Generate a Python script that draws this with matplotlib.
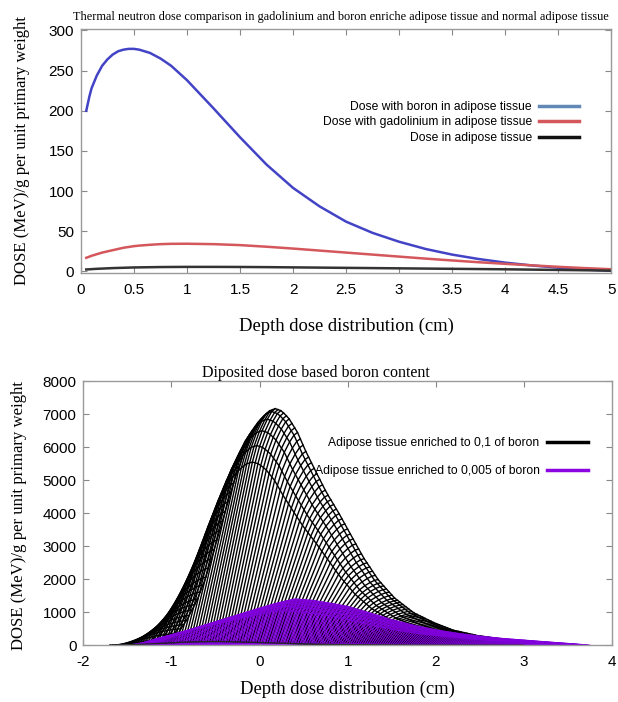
import numpy as np
import matplotlib
matplotlib.use("Agg")
import matplotlib.pyplot as plt
from matplotlib.lines import Line2D

## Data ####################################################

# top chart: thermal neutron dose vs depth
depth = [0.05, 0.08, 0.1, 0.15, 0.2, 0.25, 0.3, 0.35, 0.4, 0.45, 0.5,
         0.55, 0.65, 0.75, 0.85, 1.0, 1.25, 1.5, 1.75, 2.0, 2.25, 2.5,
         2.75, 3.0, 3.25, 3.5, 3.75, 4.0, 4.25, 4.5, 4.75, 5.0]
dose_boron = [200, 218, 228, 244, 256, 264, 270, 274, 276, 277, 277,
              276, 272, 265, 256, 238, 203, 167, 133, 104, 81, 62,
              48, 37, 28, 21, 15.5, 11, 7.5, 4.7, 2.5, 1.0]
dose_gado = [17, 18.5, 19.5, 21.5, 23.5, 25, 26.5, 28, 29.5, 30.5, 31.5,
             32.2, 33.2, 34, 34.4, 34.5, 34, 32.8, 30.8, 28.5, 26, 23.5,
             21, 18.5, 16, 13.7, 11.5, 9.5, 7.6, 5.8, 4.2, 2.8]
dose_adipose = [2.5, 2.7, 2.9, 3.3, 3.6, 3.9, 4.2, 4.4, 4.6, 4.8, 5.0,
                5.1, 5.3, 5.5, 5.6, 5.7, 5.7, 5.6, 5.4, 5.1, 4.8, 4.5,
                4.2, 3.9, 3.6, 3.3, 3.0, 2.7, 2.3, 1.9, 1.5, 1.0]

# bottom chart: surface mesh, each row = bell profile shifted and scaled
# bell shape read off the outer edge of the black surface (peak at 0)
bell_x = [-1.2, -1.16, -1.09, -1.0, -0.89, -0.8, -0.71, -0.6, -0.5, -0.44,
          -0.35, -0.25, -0.15, -0.07, 0.0, 0.07, 0.15, 0.25, 0.34, 0.45,
          0.58, 0.72, 0.85, 1.0, 1.17, 1.35, 1.57, 1.8, 2.02, 2.3, 2.6,
          3.0, 3.5]
bell_y = [0.0, 0.01, 0.06, 0.11, 0.19, 0.275, 0.385, 0.525, 0.655, 0.725,
          0.82, 0.905, 0.958, 0.99, 1.0, 0.99, 0.96, 0.9, 0.823, 0.74,
          0.645, 0.558, 0.47, 0.37, 0.275, 0.2, 0.137, 0.095, 0.063, 0.04,
          0.024, 0.012, 0.0]
# rows of the 0,1 boron surface: peak position (cm) and peak dose
black_peak_x = [-0.5, -0.08, -0.03, 0.03, 0.09, 0.14, 0.18]
black_peak_y = [110, 5550, 6050, 6500, 6850, 7080, 7170]

# profile of the 0,005 boron surface (peak at 0)
purple_x = [-1.65, -1.5, -1.4, -1.15, -0.9, -0.65, -0.4, -0.2, 0.0, 0.2,
            0.4, 0.6, 0.85, 1.1, 1.35, 1.6, 1.85, 2.1, 2.35, 2.6, 2.85,
            3.1, 3.35]
purple_y = [0.0, 0.1, 0.18, 0.34, 0.5, 0.65, 0.8, 0.91, 1.0, 0.97,
            0.91, 0.84, 0.7, 0.55, 0.43, 0.33, 0.255, 0.195, 0.145, 0.108,
            0.07, 0.036, 0.0]
purple_peak_x = [0.1, 0.22, 0.27, 0.32, 0.36, 0.4]
purple_peak_y = [60, 1050, 1180, 1280, 1350, 1400]

SERIF = ["Liberation Serif", "DejaVu Serif"]
SANS = ["Liberation Sans", "DejaVu Sans"]
plt.rcParams["font.family"] = SANS
plt.rcParams["axes.unicode_minus"] = False


def style_axes(ax):
    for s in ax.spines.values():
        s.set_color("#9a9a9a")
        s.set_linewidth(1.0)
    ax.tick_params(direction="in", top=True, right=True, length=4,
                   color="#888888", labelsize=11, pad=5)
    ax.tick_params(axis="x", pad=7)


def surface(prof_x, prof_y, peak_x, peak_y, n):
    u = np.linspace(prof_x[0], prof_x[-1], n)
    p = np.interp(u, prof_x, prof_y)
    X = np.array(peak_x)[:, None] + u[None, :]
    Z = np.array(peak_y)[:, None] * p[None, :]
    return X, Z


def draw_mesh(ax, X, Z, color, lw):
    for r in range(X.shape[0]):
        ax.plot(X[r], Z[r], color=color, lw=lw)
    for c in range(X.shape[1]):
        ax.plot(X[:, c], Z[:, c], color=color, lw=lw)


fig = plt.figure(figsize=(6.18, 7.02), dpi=100)

## Top chart ###############################################

ax1 = fig.add_axes([0.131, 0.611, 0.858, 0.348])
ax1.plot(depth, dose_boron, color="#4343c6", lw=1.8)
ax1.plot(depth, dose_gado, color="#d4575c", lw=1.8)
ax1.plot(depth, dose_adipose, color="#333333", lw=1.8)
ax1.set_xlim(0, 5)
ax1.set_ylim(-2, 302)
ax1.set_xticks([0, 0.5, 1, 1.5, 2, 2.5, 3, 3.5, 4, 4.5, 5])
ax1.set_xticklabels(["0", "0.5", "1", "1.5", "2", "2.5", "3", "3.5", "4",
                     "4.5", "5"])
ax1.set_yticks(range(0, 301, 50))
style_axes(ax1)

handles = [Line2D([], [], color="#6289b5", lw=2.5),
           Line2D([], [], color="#d4575c", lw=2.5),
           Line2D([], [], color="#111111", lw=2.5)]
labels = ["Dose with boron in adipose tissue",
          "Dose with gadolinium in adipose tissue",
          "Dose in adipose tissue"]
ax1.legend(handles, labels, markerfirst=False, frameon=False,
           loc="upper right", bbox_to_anchor=(0.96, 0.75),
           handlelength=3.3, handletextpad=0.6, labelspacing=0.3,
           prop={"family": SANS, "size": 8.7})

ax1.set_title("Thermal neutron dose comparison in gadolinium and boron "
              "enriche adipose tissue and normal adipose tissue",
              family=SERIF, fontsize=8.85, pad=6, x=0.49)
ax1.set_xlabel("Depth dose distribution (cm)", family=SERIF, fontsize=13.4)
ax1.set_ylabel("DOSE (MeV)/g per unit primary weight", family=SERIF,
               fontsize=12.1)
ax1.xaxis.set_label_coords(0.5, -0.184)
ax1.yaxis.set_label_coords(-0.096, 0.5)

## Bottom chart ############################################

ax2 = fig.add_axes([0.135, 0.081, 0.855, 0.376])

Xb, Zb = surface(bell_x, bell_y, black_peak_x, black_peak_y, 150)
draw_mesh(ax2, Xb, Zb, "black", 1.0)

Xp, Zp = surface(purple_x, purple_y, purple_peak_x, purple_peak_y, 200)
for r in range(Xp.shape[0]):
    ax2.fill_between(Xp[r], Zp[r], color="#9524ea", lw=0)
draw_mesh(ax2, Xp, Zp, "#8000dc", 0.8)

# front row of the 0,1 surface shows through the purple one
ax2.plot(Xb[0], Zb[0], color="#222222", lw=0.9)

ax2.set_xlim(-2, 4)
ax2.set_ylim(0, 8000)
ax2.set_xticks(range(-2, 5))
ax2.set_yticks(range(0, 8001, 1000))
style_axes(ax2)

handles2 = [Line2D([], [], color="black", lw=2.5),
            Line2D([], [], color="#8a05e0", lw=2.5)]
labels2 = ["Adipose tissue enriched to 0,1 of boron",
           "Adipose tissue enriched to 0,005 of boron"]
ax2.legend(handles2, labels2, markerfirst=False, frameon=False,
           loc="upper right", bbox_to_anchor=(0.975, 0.83),
           handlelength=3.4, handletextpad=0.6, labelspacing=1.35,
           prop={"family": SANS, "size": 8.7})

ax2.set_title("Diposited dose based boron content", family=SERIF,
              fontsize=11.5, pad=3, x=0.44)
ax2.set_xlabel("Depth dose distribution (cm)", family=SERIF, fontsize=13.4)
ax2.set_ylabel("DOSE (MeV)/g per unit primary weight", family=SERIF,
               fontsize=12.1)
ax2.xaxis.set_label_coords(0.5, -0.136)
ax2.yaxis.set_label_coords(-0.106, 0.49)

fig.savefig("out.png", dpi=100)
